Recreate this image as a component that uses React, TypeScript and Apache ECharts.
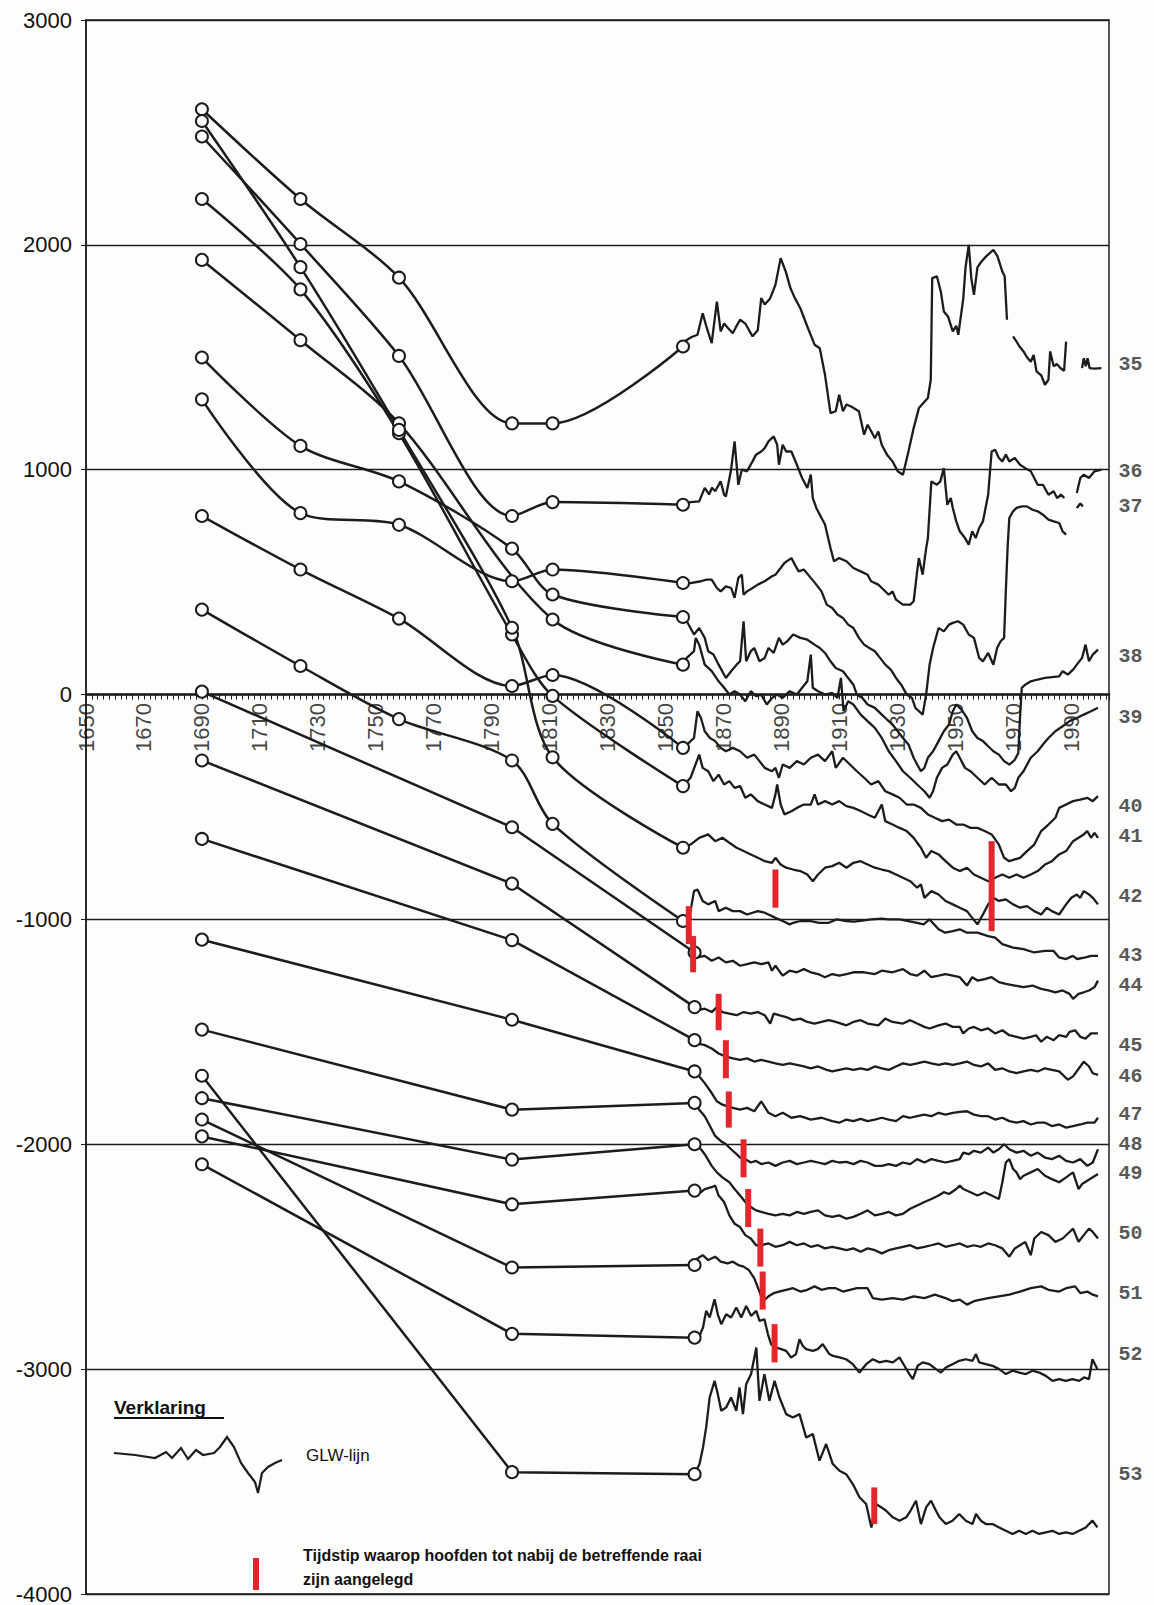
import React, { useEffect, useRef } from 'react';
import * as echarts from 'echarts';

// ---------- data ----------
const RAAI = ['35','36','37','38','39','40','41','42','43','44','45','46','47','48','49','50','51','52','53'];
const LABEL_VALUES = [1467, 993, 837, 170, -104, -496, -630, -896, -1162, -1294, -1559, -1699, -1868, -2000, -2132, -2397, -2662, -2933, -3467];
const X_LABEL_YEARS = [1650,1670,1690,1710,1730,1750,1770,1790,1810,1830,1850,1870,1890,1910,1930,1950,1970,1990];

// historic points (circles)
const H35 = [[1690,2603],[1724,2204],[1758,1854],[1797,1206],[1811,1206],[1856,1548]];
const H36 = [[1690,2482],[1724,2004],[1758,1506],[1797,794],[1811,856],[1856,844]];
const H37 = [[1690,1313],[1724,807],[1758,755],[1797,504],[1811,556],[1856,496]];
const H38 = [[1690,1499],[1724,1106],[1758,948],[1797,649],[1811,445],[1856,345]];
const H39 = [[1690,1933],[1724,1576],[1758,1206],[1811,334],[1856,133]];
const H40 = [[1690,794],[1724,556],[1758,338],[1797,38],[1811,87],[1856,-237]];
const H41 = [[1690,2204],[1724,1802],[1758,1162],[1797,267],[1811,-6],[1856,-407]];
const H42 = [[1690,2551],[1724,1901],[1758,1177],[1797,297],[1811,-279],[1856,-681]];
const H43 = [[1690,378],[1724,127],[1758,-109],[1797,-293],[1811,-575],[1856,-1007]];
const H44 = [[1690,13],[1797,-590],[1860,-1147]];
const H45 = [[1690,-293],[1797,-841],[1860,-1390]];
const H46 = [[1690,-642],[1797,-1092],[1860,-1537]];
const H47 = [[1690,-1090],[1797,-1446],[1860,-1676]];
const H48 = [[1690,-1490],[1797,-1846],[1860,-1816]];
const H49 = [[1690,-1795],[1797,-2068],[1860,-2000]];
const H50 = [[1690,-1965],[1797,-2267],[1860,-2206]];
const H51 = [[1690,-1890],[1797,-2548],[1860,-2537]];
const H52 = [[1690,-2089],[1797,-2843],[1860,-2860]];
const H53 = [[1690,-1695],[1797,-3458],[1860,-3467]];

// GLW lines (yearly low-water values)
const G35 = [[1856,1548],[1857,1575],[1859,1590],[1861,1600],[1862.8,1696],[1864,1640],[1865.9,1563],[1867.7,1748],[1869,1615],[1870.2,1650],[1871.5,1630],[1873.2,1607],[1874.5,1640],[1875.7,1667],[1877.5,1650],[1880,1593],[1881.8,1620],[1883,1763],[1884.2,1735],[1886,1760],[1887.9,1822],[1889.7,1941],[1891.5,1880],[1893,1810],[1894.6,1763],[1896.5,1718],[1898.9,1637],[1901.4,1556],[1903.2,1540],[1905,1422],[1906.9,1252],[1908.7,1260],[1909.9,1333],[1911.2,1260],[1912.4,1290],[1914,1281],[1916.7,1260],[1918.5,1156],[1919.7,1200],[1921,1170],[1922.2,1140],[1923.4,1170],[1924.6,1110],[1926.4,1067],[1928.3,1037],[1930.1,993],[1931.9,978],[1933.8,1081],[1935.6,1185],[1937.4,1274],[1940.5,1319],[1941.5,1400],[1942,1852],[1943.6,1860],[1945,1790],[1946,1704],[1947.5,1680],[1949.1,1615],[1950.3,1640],[1951,1600],[1952.7,1760],[1953.5,1900],[1954.6,2000],[1955.5,1850],[1956.4,1778],[1957.6,1900],[1959,1926],[1960.7,1950],[1963.1,1978],[1964.5,1950],[1966.2,1881],[1967,1860],[1967.8,1667],[1969,null],[1969.9,1593],[1971.1,1570],[1972,1550],[1973.5,1526],[1974.7,1500],[1976,1480],[1977,1510],[1978,1437],[1979.6,1420],[1980.9,1378],[1982.1,1400],[1982.7,1526],[1983.9,1460],[1985,1470],[1986.4,1450],[1987.5,1440],[1988.2,1570],[1990,null],[1993.7,1452],[1994.3,1496],[1995,1460],[1995.6,1496],[1996.3,1452],[1998,1450],[2000.4,1452]];
const G36 = [[1856,844],[1858.6,856],[1861.6,859],[1863.5,919],[1865,890],[1866,920],[1867.1,904],[1869,948],[1870.2,889],[1870.8,881],[1872.6,1000],[1873.8,1126],[1875.1,933],[1876.3,1000],[1878.1,993],[1880,1037],[1881.2,1067],[1883,1081],[1884.2,1096],[1885.5,1126],[1887.3,1148],[1888.5,1111],[1889.1,1022],[1890.4,1111],[1891.6,1081],[1893.4,1081],[1895.3,1022],[1897.1,963],[1898.9,919],[1900.1,978],[1900.8,874],[1902,830],[1903.8,785],[1905,756],[1906.9,652],[1908.1,593],[1909.9,607],[1912.4,593],[1914.8,563],[1917.3,548],[1919.7,533],[1920.9,504],[1923.4,489],[1924.6,474],[1927,444],[1928.3,459],[1929.5,422],[1931.9,400],[1934.4,400],[1935.6,415],[1936.8,548],[1937.4,607],[1938.7,533],[1939.9,650],[1940.5,696],[1941.7,948],[1943.6,933],[1944.8,948],[1946,1007],[1947.2,844],[1948.4,874],[1949.1,830],[1950.3,770],[1951.5,726],[1953.3,696],[1954.6,667],[1955.8,726],[1957,696],[1958.2,741],[1959.5,770],[1961.3,889],[1962.5,1081],[1963.7,1089],[1965,1052],[1966.2,1037],[1967.4,1067],[1968.6,1037],[1970.5,1052],[1972.3,1022],[1974.1,1007],[1976,993],[1977.2,963],[1978.4,933],[1980.2,933],[1982.1,889],[1983.9,904],[1985.1,874],[1986.4,889],[1987.6,874],[1989,null],[1991.9,896],[1993.1,963],[1994.3,978],[1996.1,963],[1998,993],[2000.4,1000]];
const G37 = [[1856,496],[1858.6,496],[1862.2,504],[1864.1,511],[1865.9,511],[1867.7,474],[1869,459],[1870.8,481],[1872.6,474],[1873.8,430],[1875.1,519],[1876.3,533],[1876.9,444],[1878.1,459],[1880,474],[1881.8,489],[1884.2,504],[1886.7,526],[1887.9,533],[1889.7,563],[1891,585],[1893.4,607],[1894.6,578],[1895.9,548],[1897.7,556],[1900.1,519],[1902,489],[1903.8,459],[1905.6,400],[1907.5,385],[1909.3,356],[1911.2,341],[1913,311],[1914.8,296],[1916.7,252],[1918.5,222],[1920.3,207],[1922.2,193],[1924,163],[1925.8,133],[1927.7,111],[1929.5,74],[1931.3,44],[1933.2,0],[1935,-15],[1936.2,-59],[1937.4,-74],[1938.7,-89],[1939.9,0],[1941.1,133],[1942.3,207],[1944.2,296],[1946,281],[1947.8,311],[1949.1,319],[1950.9,326],[1952.7,311],[1954.6,267],[1956.4,252],[1958.2,163],[1959.5,148],[1961.3,185],[1963.1,133],[1964.4,207],[1965.6,237],[1966.8,252],[1967.4,460],[1968,650],[1968.6,785],[1969.9,815],[1971.1,830],[1972.9,837],[1974.7,837],[1976.6,822],[1978.4,815],[1980.2,800],[1982.1,778],[1983.9,770],[1985.8,763],[1987,726],[1988.2,711],[1990,null],[1991.9,830],[1993.1,850],[1994,837]];
const G38 = [[1856,345],[1857.3,326],[1859.8,267],[1861.6,296],[1863.5,252],[1864.7,193],[1866.5,178],[1868.3,133],[1870.8,74],[1872.6,104],[1874.5,133],[1875.7,148],[1876.9,326],[1877.8,148],[1879.4,193],[1880.6,207],[1882.4,148],[1884.2,163],[1885.5,207],[1887.3,185],[1889.1,252],[1890.4,222],[1892,237],[1894,267],[1896.5,252],[1898.9,244],[1901.4,222],[1903.2,207],[1905,185],[1906.9,148],[1908.7,118],[1911.2,104],[1913,74],[1914.8,44],[1916,0],[1917.9,-15],[1919.7,-44],[1922.2,-59],[1924.6,-89],[1926.4,-111],[1928.3,-133],[1930.1,-163],[1931.9,-193],[1933.8,-222],[1935.6,-281],[1936.8,-311],[1938.1,-341],[1939.3,-326],[1940.5,-281],[1942.3,-252],[1944.2,-207],[1946,-163],[1947.8,-133],[1949.1,-74],[1950.3,-44],[1952.1,-67],[1954,-104],[1955.8,-163],[1957.6,-193],[1959.5,-207],[1961.3,-230],[1963.1,-252],[1965,-267],[1966.8,-296],[1968.6,-311],[1970.5,-290],[1971.7,-260],[1972.3,-100],[1972.9,30],[1974.1,44],[1976,59],[1978.4,67],[1980.9,74],[1983.3,78],[1985.8,81],[1987,104],[1988.8,89],[1990.6,111],[1991.9,133],[1993.7,163],[1994.9,222],[1996.1,148],[1997.4,178],[1999.2,200]];
const G39 = [[1856,133],[1857.3,163],[1859.8,193],[1860.4,252],[1861.6,222],[1863.5,133],[1865.9,104],[1868.3,59],[1870.2,30],[1872,0],[1873.8,15],[1875.7,0],[1877.5,-30],[1879.4,15],[1881.2,-7],[1883,0],[1884.9,-44],[1886.7,-15],[1888.5,0],[1890.4,-15],[1892.8,15],[1895.3,0],[1897.1,30],[1898.9,59],[1900.1,178],[1900.8,30],[1902.6,15],[1905,0],[1907.5,7],[1909.3,-15],[1910.5,74],[1911.4,-74],[1913,-30],[1914.8,-44],[1917.3,-89],[1919.7,-118],[1922.2,-148],[1924.6,-193],[1927,-252],[1929.5,-296],[1931.9,-341],[1934.4,-370],[1936.8,-400],[1939.3,-430],[1941.1,-459],[1942.3,-430],[1943.6,-370],[1945.4,-326],[1947.2,-311],[1949.1,-267],[1950.3,-252],[1951.5,-281],[1953.3,-326],[1955.2,-341],[1957.6,-370],[1960.1,-400],[1962.5,-370],[1965,-400],[1967.4,-400],[1969.2,-430],[1970.5,-415],[1971.7,-370],[1973.5,-341],[1976,-281],[1978.4,-252],[1980.2,-222],[1982.1,-193],[1984.5,-163],[1987,-141],[1989.4,-118],[1991.9,-104],[1994.3,-89],[1996.8,-74],[1999.2,-59]];
const G40 = [[1856,-237],[1858,-215],[1859.8,-193],[1861,-74],[1862.2,-104],[1863.5,-163],[1865.3,-193],[1867.1,-207],[1869,-237],[1870.8,-252],[1873.2,-237],[1875.7,-252],[1878.1,-281],[1880.6,-267],[1882.4,-296],[1884.2,-326],[1886.7,-341],[1887.9,-326],[1889.1,-370],[1890.4,-311],[1892.8,-326],[1895.3,-296],[1897.7,-311],[1900.1,-281],[1902.6,-267],[1905,-296],[1907.5,-252],[1908.7,-326],[1911.2,-281],[1913.6,-311],[1916,-341],[1918.5,-370],[1920.9,-400],[1923.4,-385],[1925.8,-430],[1928.3,-444],[1930.7,-459],[1933.2,-489],[1935.6,-489],[1938.1,-504],[1940.5,-533],[1942.9,-548],[1945.4,-563],[1947.8,-556],[1950.3,-578],[1952.7,-578],[1955.2,-593],[1957.6,-593],[1960.1,-607],[1962.5,-622],[1965,-667],[1966.8,-726],[1968.6,-741],[1970.5,-733],[1972.3,-726],[1974.7,-696],[1977.2,-667],[1979.6,-607],[1982.1,-578],[1984.5,-548],[1985.8,-504],[1988.2,-489],[1990.6,-474],[1993.1,-467],[1995.5,-459],[1997.4,-474],[1999.2,-452]];
const G41 = [[1856,-407],[1858.6,-370],[1861.6,-267],[1862.8,-326],[1864.7,-341],[1866.5,-385],[1868.3,-356],[1870.2,-400],[1872,-385],[1873.8,-415],[1875.7,-407],[1877.5,-459],[1879.4,-444],[1881.8,-474],[1884.2,-489],[1886.7,-504],[1887.9,-444],[1888.5,-400],[1889.7,-489],[1891,-533],[1893.4,-519],[1895.3,-504],[1897.7,-489],[1900.1,-489],[1901.4,-444],[1902.6,-489],[1905,-474],[1907.5,-489],[1909.9,-474],[1912.4,-496],[1914.8,-504],[1917.3,-518],[1919.7,-533],[1922.2,-548],[1924.6,-489],[1925.8,-563],[1928.3,-578],[1930.7,-593],[1933.2,-607],[1935.6,-637],[1938.1,-681],[1939.9,-726],[1941.7,-696],[1944.2,-711],[1946.6,-741],[1949.1,-770],[1951.5,-785],[1954,-770],[1956.4,-800],[1958.8,-815],[1961.3,-830],[1963.7,-815],[1966.2,-800],[1968.6,-815],[1971.1,-800],[1973.5,-815],[1976,-800],[1978.4,-785],[1980.9,-756],[1983.3,-741],[1985.8,-711],[1988.2,-696],[1990.6,-652],[1992.5,-637],[1994.3,-622],[1995.5,-607],[1996.8,-637],[1998,-615],[1999.2,-637]];
const G42 = [[1856,-681],[1858.6,-667],[1861.6,-637],[1864.7,-622],[1867.1,-652],[1869.6,-637],[1872,-659],[1874.5,-681],[1876.9,-696],[1879.4,-711],[1881.8,-726],[1884.2,-741],[1886.7,-748],[1887.9,-726],[1889.7,-756],[1891.6,-770],[1894,-778],[1896.5,-785],[1898.9,-800],[1900.8,-830],[1902.6,-800],[1905,-770],[1907.5,-763],[1909.9,-748],[1912.4,-770],[1914.8,-748],[1917.3,-741],[1919.7,-756],[1922.2,-770],[1924.6,-778],[1927,-785],[1929.5,-800],[1931.9,-815],[1934.4,-830],[1936.8,-859],[1938.1,-844],[1939.3,-904],[1941.7,-874],[1944.2,-889],[1946.6,-918],[1949.1,-933],[1951.5,-948],[1954,-963],[1955.8,-993],[1957.6,-1022],[1959.5,-978],[1961.3,-933],[1963.1,-904],[1965,-918],[1967.4,-911],[1969.9,-933],[1972.3,-948],[1974.7,-941],[1977.2,-963],[1979.6,-978],[1981.5,-948],[1983.3,-963],[1985.8,-978],[1988.2,-933],[1990,-904],[1991.9,-889],[1993.1,-904],[1994.3,-874],[1996.1,-889],[1997.4,-904],[1999.2,-933]];
const G43 = [[1856,-1007],[1858.6,-963],[1859.8,-874],[1861,-867],[1862.8,-918],[1864.7,-933],[1867.1,-918],[1868.3,-963],[1870.8,-948],[1873.2,-963],[1875.7,-963],[1878.1,-978],[1881.8,-963],[1884.2,-970],[1885.5,-978],[1887.9,-993],[1890.4,-1007],[1892.8,-1022],[1894,-1015],[1896.5,-1007],[1900.1,-1007],[1903,-1015],[1906.3,-1015],[1909,-1000],[1912.4,-1007],[1915,-1010],[1918.5,-1004],[1921,-1000],[1924.6,-996],[1927,-1000],[1930.7,-1000],[1933.8,-1007],[1936.8,-1015],[1939,-1022],[1941.1,-1000],[1944.2,-1044],[1946.5,-1059],[1949.1,-1052],[1951.5,-1044],[1954,-1059],[1957.6,-1059],[1961.3,-1074],[1963.7,-1081],[1966.2,-1110],[1969.9,-1125],[1973.5,-1132],[1977.2,-1147],[1980.9,-1140],[1983.9,-1140],[1985.8,-1169],[1988.2,-1176],[1990.5,-1162],[1992,-1176],[1994.9,-1169],[1996.8,-1162],[1999.2,-1162]];
const G44 = [[1860,-1147],[1861,-1169],[1863.5,-1162],[1865.9,-1184],[1868.3,-1169],[1870.8,-1191],[1873.2,-1184],[1875.7,-1206],[1878.1,-1199],[1880.6,-1191],[1883,-1199],[1885.5,-1191],[1886.7,-1228],[1887.9,-1206],[1890.4,-1250],[1892.8,-1228],[1895.3,-1235],[1897.7,-1221],[1900.1,-1235],[1902.6,-1243],[1905,-1257],[1907.5,-1243],[1909.9,-1250],[1912.4,-1243],[1914.8,-1235],[1918.5,-1235],[1922.2,-1243],[1924.6,-1228],[1928.3,-1235],[1931.9,-1221],[1934.4,-1243],[1936.8,-1250],[1939.3,-1228],[1941.7,-1257],[1944.2,-1250],[1946.6,-1243],[1949.1,-1250],[1951.5,-1257],[1954,-1294],[1955.8,-1257],[1957.6,-1272],[1960.1,-1265],[1962.5,-1257],[1965,-1279],[1967.4,-1287],[1970.5,-1294],[1973.5,-1301],[1976.6,-1294],[1979.6,-1309],[1982.1,-1316],[1984.5,-1324],[1987,-1316],[1989.4,-1331],[1990.6,-1353],[1992.5,-1331],[1994.3,-1324],[1996.1,-1316],[1998,-1301],[1999.2,-1272]];
const G45 = [[1860,-1390],[1861,-1404],[1863.5,-1397],[1865.9,-1412],[1867.7,-1390],[1869.6,-1412],[1872,-1419],[1874.5,-1426],[1876.9,-1412],[1879.4,-1419],[1881.8,-1412],[1884.2,-1426],[1886.1,-1463],[1887.3,-1419],[1889.1,-1426],[1891.6,-1434],[1894,-1448],[1896.5,-1441],[1898.9,-1456],[1901.4,-1463],[1903.8,-1456],[1906.3,-1448],[1908.7,-1456],[1912.4,-1471],[1914.8,-1456],[1917.3,-1448],[1919.7,-1463],[1923.4,-1471],[1925.8,-1441],[1928.3,-1456],[1931.9,-1463],[1934.4,-1448],[1936.8,-1463],[1939.3,-1478],[1941.1,-1485],[1944.2,-1471],[1946.6,-1463],[1949.1,-1478],[1951.5,-1478],[1952.7,-1507],[1954.6,-1485],[1956.4,-1478],[1958.8,-1493],[1961.3,-1485],[1963.7,-1507],[1966.2,-1493],[1968.6,-1515],[1971.1,-1522],[1973.5,-1530],[1976,-1522],[1977.8,-1515],[1979.6,-1544],[1981.5,-1522],[1983.9,-1537],[1985.8,-1515],[1988.2,-1522],[1989.4,-1500],[1991.3,-1493],[1993.1,-1522],[1994.9,-1530],[1996.8,-1507],[1999.2,-1507]];
const G46 = [[1860,-1537],[1861,-1551],[1863.5,-1559],[1865.9,-1574],[1868.3,-1596],[1870.8,-1610],[1873.2,-1618],[1875.7,-1625],[1878.1,-1618],[1880.6,-1632],[1883,-1625],[1885.5,-1632],[1887.9,-1640],[1890.4,-1647],[1892.8,-1640],[1895.3,-1647],[1897.7,-1654],[1900.1,-1662],[1902.6,-1654],[1905.6,-1669],[1907.5,-1676],[1909.9,-1669],[1912.4,-1662],[1914.8,-1669],[1917.3,-1662],[1919.7,-1669],[1922.2,-1654],[1924.6,-1662],[1927,-1669],[1929.5,-1654],[1931.9,-1640],[1934.4,-1647],[1936.8,-1640],[1939.3,-1632],[1941.7,-1640],[1944.2,-1647],[1946.6,-1640],[1949.1,-1647],[1951.5,-1640],[1954,-1632],[1956.4,-1647],[1958.8,-1654],[1961.3,-1640],[1963.7,-1669],[1966.2,-1662],[1968.6,-1676],[1971.1,-1684],[1973.5,-1676],[1976,-1669],[1978.4,-1676],[1980.9,-1662],[1983.3,-1669],[1985.8,-1676],[1987.6,-1698],[1988.8,-1713],[1990.6,-1698],[1993.1,-1654],[1994.3,-1632],[1996.1,-1654],[1997.4,-1684],[1999.2,-1691]];
const G47 = [[1860,-1676],[1861.6,-1698],[1863.5,-1728],[1865.9,-1772],[1867.7,-1809],[1869.6,-1824],[1871.4,-1831],[1873.2,-1838],[1875.7,-1846],[1878.1,-1838],[1880.6,-1853],[1883,-1809],[1885.5,-1860],[1887.9,-1875],[1890.4,-1860],[1893.4,-1882],[1896.5,-1875],[1900.1,-1890],[1903.8,-1882],[1907.5,-1897],[1909.9,-1904],[1912.4,-1890],[1914.8,-1897],[1917.3,-1887],[1919.7,-1897],[1922.2,-1890],[1924.6,-1882],[1927,-1890],[1929.5,-1897],[1931.9,-1875],[1934.4,-1882],[1936.8,-1875],[1939.3,-1868],[1941.7,-1875],[1944.2,-1860],[1946.6,-1868],[1949.1,-1860],[1951.5,-1856],[1954,-1853],[1956.4,-1868],[1958.8,-1875],[1961.3,-1875],[1963.7,-1890],[1966.2,-1882],[1968.6,-1897],[1971.1,-1904],[1973.5,-1897],[1976,-1912],[1978.4,-1904],[1980.9,-1904],[1983.3,-1919],[1985.8,-1912],[1988.2,-1926],[1990.6,-1919],[1993.1,-1912],[1995.5,-1904],[1998,-1904],[1999.2,-1882]];
const G48 = [[1860,-1816],[1861.6,-1846],[1863.5,-1875],[1865.3,-1919],[1867.1,-1963],[1869,-1985],[1870.8,-2000],[1872.6,-2022],[1874.5,-2044],[1875.7,-2059],[1877.5,-2066],[1879.4,-2081],[1881.2,-2074],[1883,-2088],[1885.5,-2081],[1887.9,-2096],[1890.4,-2081],[1892.8,-2074],[1895.3,-2088],[1897.7,-2081],[1900.1,-2074],[1902.6,-2081],[1905,-2088],[1907.5,-2074],[1909.9,-2081],[1912.4,-2078],[1914.8,-2088],[1917.3,-2074],[1919.7,-2081],[1922.2,-2096],[1924.6,-2096],[1927,-2088],[1929.5,-2096],[1931.9,-2081],[1934.4,-2088],[1936.8,-2066],[1939.3,-2081],[1941.7,-2066],[1944.2,-2074],[1946.6,-2081],[1949.1,-2074],[1951.5,-2066],[1952.7,-2037],[1954.6,-2044],[1956.4,-2029],[1958.8,-2037],[1961.3,-2015],[1963.1,-2037],[1965,-2022],[1966.8,-2000],[1968.6,-2022],[1971.1,-2037],[1973.5,-2029],[1976,-2051],[1978.4,-2037],[1980.9,-2059],[1983.3,-2066],[1985.8,-2051],[1988.2,-2074],[1990.6,-2081],[1993.1,-2066],[1995.5,-2096],[1997.4,-2081],[1999.2,-2022]];
const G49 = [[1860,-2000],[1862.2,-2022],[1863.5,-2044],[1865.9,-2096],[1867.7,-2125],[1869.6,-2147],[1872,-2169],[1873.8,-2199],[1875.7,-2228],[1877.5,-2257],[1879.4,-2279],[1881.2,-2294],[1883,-2301],[1885.5,-2309],[1887.9,-2316],[1890.4,-2309],[1892.8,-2316],[1895.3,-2301],[1897.7,-2309],[1900.1,-2301],[1902.6,-2294],[1905,-2316],[1907.5,-2323],[1909.9,-2316],[1912.4,-2331],[1914.8,-2323],[1917.3,-2309],[1919.7,-2294],[1922.2,-2316],[1924.6,-2309],[1927,-2301],[1929.5,-2316],[1931.9,-2309],[1934.4,-2287],[1936.8,-2272],[1939.3,-2257],[1941.7,-2243],[1944.2,-2228],[1946,-2213],[1947.8,-2221],[1950.3,-2199],[1951.5,-2184],[1952.7,-2199],[1955.2,-2213],[1957.6,-2228],[1960.1,-2213],[1962.5,-2228],[1965,-2243],[1966.2,-2169],[1967.4,-2081],[1968.6,-2066],[1969.9,-2110],[1971.1,-2125],[1972.3,-2155],[1973.5,-2140],[1976,-2125],[1978.4,-2110],[1980.9,-2140],[1983.3,-2155],[1985.8,-2169],[1988.2,-2147],[1990.6,-2125],[1992.5,-2199],[1993.7,-2177],[1995.5,-2162],[1997.4,-2147],[1999.2,-2132]];
const G50 = [[1860,-2206],[1862.2,-2213],[1863.5,-2199],[1865.9,-2191],[1867.1,-2184],[1868.3,-2228],[1870.2,-2257],[1872,-2316],[1873.8,-2353],[1875.7,-2368],[1877.5,-2404],[1879.4,-2419],[1881.2,-2449],[1883,-2449],[1885.5,-2441],[1887.9,-2456],[1890.4,-2449],[1892.8,-2434],[1895.3,-2449],[1897.7,-2441],[1900.1,-2456],[1902.6,-2449],[1905,-2463],[1907.5,-2456],[1909.9,-2463],[1912.4,-2471],[1914.8,-2463],[1917.3,-2478],[1919.7,-2463],[1922.2,-2471],[1924.6,-2485],[1927,-2471],[1929.5,-2463],[1931.9,-2456],[1934.4,-2449],[1936.8,-2463],[1939.3,-2456],[1941.7,-2449],[1944.2,-2441],[1946.6,-2456],[1949.1,-2449],[1951.5,-2441],[1954,-2456],[1956.4,-2449],[1958.8,-2456],[1961.3,-2441],[1963.7,-2449],[1966.2,-2463],[1968.6,-2500],[1970.5,-2463],[1972.3,-2449],[1974.1,-2434],[1976,-2493],[1977.2,-2419],[1979.6,-2390],[1982.1,-2404],[1984.5,-2434],[1987,-2419],[1989.4,-2390],[1990.6,-2375],[1992.5,-2434],[1994.3,-2404],[1996.1,-2375],[1997.4,-2390],[1999.2,-2419]];
const G51 = [[1860,-2537],[1861,-2508],[1862.8,-2493],[1864.7,-2515],[1867.1,-2500],[1869,-2522],[1871.4,-2530],[1873.2,-2522],[1875.1,-2537],[1876.9,-2544],[1878.7,-2559],[1880.6,-2596],[1882.4,-2655],[1883.6,-2698],[1885.5,-2676],[1887.3,-2662],[1889.1,-2655],[1891.6,-2647],[1894,-2640],[1896.5,-2655],[1898.9,-2647],[1901.4,-2632],[1903.8,-2647],[1906.3,-2640],[1908.7,-2640],[1911.2,-2655],[1913.6,-2647],[1916,-2640],[1919.7,-2640],[1921.5,-2684],[1924.6,-2691],[1928.3,-2684],[1931.9,-2691],[1935.6,-2676],[1939.3,-2684],[1942.9,-2669],[1946.6,-2684],[1949.1,-2698],[1951.5,-2691],[1954,-2713],[1956.4,-2698],[1958.8,-2691],[1961.3,-2684],[1965,-2676],[1968.6,-2669],[1972.3,-2655],[1976,-2640],[1979.6,-2632],[1982.1,-2647],[1985.8,-2655],[1988.2,-2640],[1991.3,-2632],[1993.1,-2662],[1995.5,-2655],[1997.4,-2669],[1999.2,-2676]];
const G52 = [[1860,-2860],[1861.7,-2852],[1862.9,-2815],[1864,-2741],[1865.2,-2770],[1866.9,-2689],[1868,-2756],[1869.2,-2800],[1870.9,-2756],[1872.6,-2770],[1874.4,-2726],[1876.1,-2770],[1877.8,-2719],[1879.5,-2763],[1881.3,-2741],[1882.4,-2785],[1884.1,-2778],[1885.3,-2844],[1886.4,-2889],[1888.2,-2904],[1889.9,-2911],[1891.6,-2919],[1893.3,-2948],[1895,-2933],[1896.2,-2867],[1897.3,-2896],[1898.5,-2911],[1900.8,-2919],[1902.5,-2911],[1904.2,-2889],[1906.5,-2933],[1907.7,-2941],[1910,-2948],[1912.3,-2956],[1914.6,-2978],[1916.9,-3015],[1919.2,-2978],[1921.5,-2956],[1923.8,-2970],[1926.1,-2963],[1928.4,-2970],[1930.7,-2948],[1932.4,-2985],[1934.1,-3022],[1935.3,-3044],[1937,-2985],[1938.7,-2970],[1941,-2978],[1943.3,-3000],[1945,-3015],[1946.7,-2993],[1949,-2978],[1951.3,-2963],[1953.6,-2956],[1955.9,-2963],[1957.1,-2933],[1958.2,-2970],[1960.5,-2978],[1962.8,-2985],[1965.1,-3000],[1967.4,-3022],[1969.7,-3007],[1972,-3015],[1974.3,-3022],[1976.6,-3007],[1978.9,-3015],[1981.2,-3030],[1983.5,-3052],[1985.8,-3044],[1988.1,-3052],[1990.4,-3044],[1992.7,-3052],[1994.4,-3037],[1996.1,-3044],[1997.3,-2956],[1999,-3000]];
const G53 = [[1860,-3467],[1861.7,-3422],[1862.9,-3348],[1864,-3259],[1865.2,-3126],[1866.9,-3052],[1868,-3111],[1869.2,-3185],[1870.9,-3170],[1872.6,-3126],[1874.4,-3185],[1875.5,-3081],[1876.7,-3200],[1877.8,-3067],[1879.5,-3022],[1881.3,-2904],[1882.4,-3141],[1884.1,-3022],[1885.8,-3141],[1887.6,-3052],[1889.3,-3126],[1891.6,-3200],[1893.9,-3215],[1896.2,-3200],[1898.5,-3304],[1900.8,-3289],[1903.1,-3407],[1905.4,-3333],[1907.7,-3422],[1910,-3452],[1912.3,-3467],[1914.6,-3511],[1916.9,-3570],[1919.2,-3600],[1921,-3704],[1922.6,-3600],[1924.5,-3615],[1926.1,-3630],[1928.4,-3659],[1930.7,-3674],[1933,-3659],[1934.5,-3630],[1936.4,-3585],[1938.1,-3689],[1939.9,-3615],[1941.6,-3585],[1943.3,-3630],[1944.5,-3659],[1946.7,-3689],[1949,-3674],[1951.3,-3644],[1953.6,-3674],[1955.9,-3689],[1957.1,-3644],[1958.8,-3674],[1960.5,-3689],[1962.8,-3689],[1965.1,-3704],[1967.4,-3719],[1969.7,-3733],[1972,-3719],[1974.3,-3733],[1976.6,-3719],[1978.9,-3733],[1981.2,-3726],[1983.5,-3719],[1985.8,-3733],[1988.1,-3726],[1990.4,-3733],[1992.7,-3719],[1995,-3704],[1996.1,-3689],[1997.3,-3674],[1999,-3704]];

// red markers: [year, low, high]
const GROYNE_BARS = [
  [1858,-1110,-941],[1859.5,-1235,-1074],[1868.3,-1493,-1331],[1870.8,-1706,-1537],
  [1871.8,-1926,-1765],[1876.9,-2147,-1978],[1878.5,-2368,-2199],[1882.7,-2544,-2375],
  [1883.5,-2735,-2566],[1887.6,-2970,-2800],[1922,-3689,-3526],[1887.9,-948,-778],[1962.5,-1052,-652],
];

const HISTORIC = [H35,H36,H37,H38,H39,H40,H41,H42,H43,H44,H45,H46,H47,H48,H49,H50,H51,H52,H53];
const GLW = [G35,G36,G37,G38,G39,G40,G41,G42,G43,G44,G45,G46,G47,G48,G49,G50,G51,G52,G53];

const X_MIN = 1650;
const X_MAX = 2003;
const INK = '#1c1c1c';
const TEXT = '#111';
const RED = '#e3262c';
const SANS = 'Liberation Sans';

// legend glyph (pixel polyline)
const LEGEND_GLYPH = [[114,1453],[135,1455],[155,1458],[166,1452],[172,1458],[181,1448],[188,1459],[196,1450],[203,1455],[214,1453],[220,1447],[227,1437],[234,1447],[241,1463],[248,1473],[255,1482],[258,1493],[262,1473],[268,1467],[275,1463],[282,1460]];

export default function App() {
  const ref = useRef<HTMLDivElement>(null);
  useEffect(() => {
    document.body.style.margin = '0';
    const chart = echarts.init(ref.current as HTMLDivElement, null, { renderer: 'svg' });
    const series: any[] = [];
    RAAI.forEach((id, i) => {
      series.push({
        type: 'line', name: 'hist' + id, data: HISTORIC[i],
        smooth: i < 9 ? 0.3 : false,
        symbol: 'emptyCircle', symbolSize: 12, showAllSymbol: true,
        lineStyle: { color: INK, width: 2.5 },
        itemStyle: { color: INK, borderColor: INK, borderWidth: 2.4 },
        z: 4, silent: true,
      });
      series.push({
        type: 'line', name: 'glw' + id, data: GLW[i],
        symbol: 'none', showSymbol: false,
        lineStyle: { color: INK, width: 2.3 },
        z: 3, silent: true,
      });
    });
    series.push({
      type: 'custom', name: 'hoofden', data: GROYNE_BARS, z: 6, silent: true,
      encode: { x: 0, y: [1, 2] },
      renderItem: (params: any, api: any) => {
        const top = api.coord([api.value(0), api.value(2)]);
        const bot = api.coord([api.value(0), api.value(1)]);
        return { type: 'rect', shape: { x: top[0] - 3, y: top[1], width: 6, height: bot[1] - top[1] }, style: { fill: RED } };
      },
    });
    // raai numbers at right
    series.push({
      type: 'scatter', name: 'raai', silent: true, clip: false,
      data: LABEL_VALUES.map((v, i) => [X_MAX, v, RAAI[i]]),
      symbolSize: 1, itemStyle: { color: 'rgba(0,0,0,0)' },
      label: {
        show: true, position: 'right', distance: 9,
        formatter: (p: any) => p.value[2],
        fontFamily: 'Liberation Mono', fontSize: 20, fontWeight: 'bold', color: '#2a2a2a',
      },
    });
    // year labels along the zero line
    series.push({
      type: 'scatter', name: 'years', silent: true, clip: false,
      data: X_LABEL_YEARS.map((y) => [y, 0]),
      symbolSize: 1, itemStyle: { color: 'rgba(0,0,0,0)' },
      label: {
        show: true, position: 'bottom', distance: 8, rotate: 90, align: 'right', verticalAlign: 'middle',
        formatter: (p: any) => String(p.value[0]),
        fontFamily: SANS, fontSize: 22, color: TEXT,
      },
    });

    chart.setOption({
      animation: false,
      backgroundColor: '#fdfdfd',
      grid: { left: 86, top: 20, width: 1023, height: 1580, show: true, borderColor: INK, borderWidth: 1.5, backgroundColor: 'transparent' },
      xAxis: {
        type: 'value', min: X_MIN, max: X_MAX, interval: 2,
        axisLine: { show: true, onZero: true, lineStyle: { color: INK, width: 2.5 } },
        axisTick: { show: true, length: 5, lineStyle: { color: INK, width: 1 } },
        axisLabel: { show: false },
        splitLine: { show: false },
      },
      yAxis: {
        type: 'value', min: -4000, max: 3000, interval: 1000,
        axisLine: { show: true, lineStyle: { color: INK, width: 1.5 } },
        axisTick: { show: true, length: 5, lineStyle: { color: INK } },
        axisLabel: { margin: 14, fontFamily: SANS, fontSize: 22, color: TEXT, formatter: (v: number) => String(v) },
        splitLine: { show: true, lineStyle: { color: INK, width: 1.3 } },
      },
      graphic: [
        { type: 'text', x: 114, y: 1398, style: { text: 'Verklaring', font: 'bold 19px "Liberation Sans", Arial', fill: TEXT } },
        { type: 'line', shape: { x1: 114, y1: 1418, x2: 224, y2: 1418 }, style: { stroke: TEXT, lineWidth: 2 } },
        { type: 'polyline', shape: { points: LEGEND_GLYPH }, style: { stroke: INK, lineWidth: 2.2, fill: null } },
        { type: 'text', x: 306, y: 1447, style: { text: 'GLW-lijn', font: '17px "Liberation Sans", Arial', fill: TEXT } },
        { type: 'rect', shape: { x: 253, y: 1558, width: 6, height: 32 }, style: { fill: RED } },
        { type: 'text', x: 303, y: 1547, style: { text: 'Tijdstip waarop hoofden tot nabij de betreffende raai', font: 'bold 16px "Liberation Sans", Arial', fill: TEXT } },
        { type: 'text', x: 303, y: 1571, style: { text: 'zijn aangelegd', font: 'bold 16px "Liberation Sans", Arial', fill: TEXT } },
      ],
      series,
    });
    return () => chart.dispose();
  }, []);
  return <div ref={ref} style={{ width: 1154, height: 1605 }} />;
}
